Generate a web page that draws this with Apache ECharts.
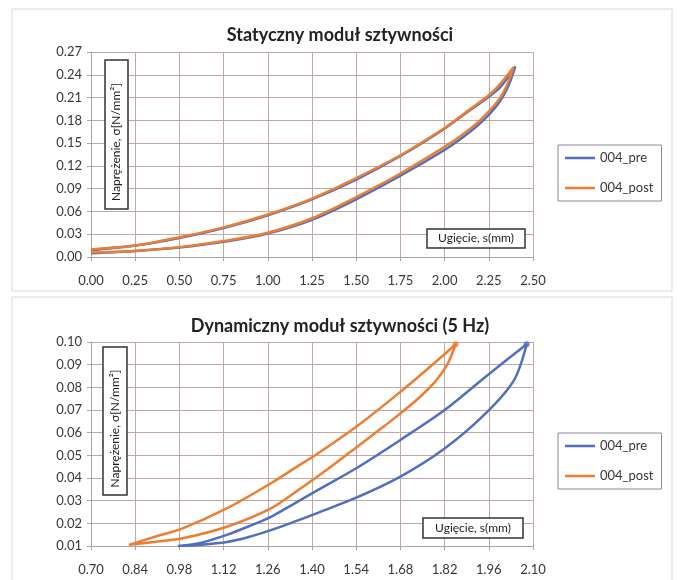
<!DOCTYPE html>
<html>
<head>
<meta charset="utf-8">
<script src="https://cdn.jsdelivr.net/npm/echarts@6/dist/echarts.min.js"></script>
<style>html,body{margin:0;padding:0;background:#fff}#c{width:680px;height:580px}</style>
</head>
<body>
<div id="c"></div>
<script>
// ---- Top chart: Statyczny moduł sztywności ----
var staticTitle = 'Statyczny moduł sztywności';
var staticXTicks = ['0.00','0.25','0.50','0.75','1.00','1.25','1.50','1.75','2.00','2.25','2.50'];
var staticYTicks = ['0.00','0.03','0.06','0.09','0.12','0.15','0.18','0.21','0.24','0.27'];
var staticPreX  = [0.00,0.25,0.50,0.75,1.00,1.25,1.50,1.75,2.00,2.10,2.20,2.30,2.36,2.40, 2.32,2.25,2.10,2.00,1.75,1.50,1.25,1.00,0.75,0.50,0.25,0.00];
var staticPreY  = [0.005,0.008,0.0125,0.020,0.031,0.049,0.076,0.107,0.141,0.157,0.176,0.201,0.225,0.251, 0.225,0.211,0.186,0.169,0.133,0.102,0.076,0.055,0.038,0.025,0.015,0.009];
var staticPostX = [0.00,0.25,0.50,0.75,1.00,1.25,1.50,1.75,2.00,2.10,2.20,2.30,2.35,2.39, 2.30,2.25,2.10,2.00,1.75,1.50,1.25,1.00,0.75,0.50,0.25,0.00];
var staticPostY = [0.006,0.008,0.013,0.021,0.032,0.051,0.079,0.110,0.145,0.161,0.180,0.205,0.225,0.250, 0.224,0.213,0.187,0.170,0.134,0.104,0.077,0.056,0.039,0.026,0.015,0.010];

// ---- Bottom chart: Dynamiczny moduł sztywności (5 Hz) ----
var dynTitle = 'Dynamiczny moduł sztywności (5 Hz)';
var dynXTicks = ['0.70','0.84','0.98','1.12','1.26','1.40','1.54','1.68','1.82','1.96','2.10'];
var dynYTicks = ['0.01','0.02','0.03','0.04','0.05','0.06','0.07','0.08','0.09','0.10'];
var dynPreX  = [0.975,1.05,1.13,1.20,1.27,1.34,1.41,1.54,1.68,1.82,1.95,2.04,2.08, 1.95,1.82,1.68,1.54,1.41,1.34,1.27,1.20,1.13,1.05,0.975];
var dynPreY  = [0.0100,0.0106,0.0118,0.0140,0.0170,0.0205,0.0242,0.0313,0.0406,0.0530,0.0685,0.0832,0.0990, 0.0847,0.0700,0.0568,0.0443,0.0340,0.0284,0.0229,0.0187,0.0149,0.0115,0.0100];
var dynPostX = [0.82,0.90,0.99,1.13,1.27,1.36,1.45,1.54,1.63,1.68,1.74,1.79,1.83,1.855, 1.805,1.68,1.54,1.41,1.36,1.27,1.13,0.99,0.90,0.82];
var dynPostY = [0.0105,0.0118,0.0134,0.0185,0.0266,0.0350,0.0440,0.0535,0.0630,0.0685,0.0755,0.0825,0.0905,0.0990, 0.0928,0.0780,0.0626,0.0500,0.0457,0.0377,0.0266,0.0178,0.0140,0.0105];

var seriesNames = ['004_pre','004_post'];
var colors = ['#4F6FC0','#ED7D31'];
var axisNameY = 'Naprężenie, σ[N/mm²]';
var axisNameX = 'Ugięcie, s(mm)';

function zip(xs, ys){ return xs.map(function(x,i){ return [x, ys[i]]; }); }
function apex(xs, ys){ var m=0; for(var i=1;i<ys.length;i++){ if(ys[i]>ys[m]) m=i; } return [[xs[m], ys[m]]]; }

var FONT = 'Lato, "Liberation Sans", sans-serif';
var gridColor = '#c2a9a9';
var labelStyle = {fontFamily: FONT, fontSize: 13, color: '#383838'};

function xAxis(idx, ticks){
  var mn = parseFloat(ticks[0]), mx = parseFloat(ticks[ticks.length-1]);
  var step = parseFloat(ticks[1]) - mn;
  return {type:'value', gridIndex: idx, min: mn, max: mx, interval: step,
    axisLine:{show:true, onZero:false, lineStyle:{color:'#b0a0a0'}},
    axisTick:{show:true, length:4, lineStyle:{color:'#b0a0a0'}},
    splitLine:{show:true, lineStyle:{color:gridColor, width:1}},
    axisLabel: Object.assign({margin:17, formatter:function(v){
      var k = Math.round((v-mn)/step); return ticks[k] !== undefined ? ticks[k] : v.toFixed(2);}}, labelStyle)};
}
function yAxis(idx, ticks){
  var mn = parseFloat(ticks[0]), mx = parseFloat(ticks[ticks.length-1]);
  var step = parseFloat(ticks[1]) - mn;
  return {type:'value', gridIndex: idx, min: mn, max: mx, interval: step,
    axisLine:{show:true, lineStyle:{color:'#b0a0a0'}},
    axisTick:{show:true, length:4, lineStyle:{color:'#b0a0a0'}},
    splitLine:{show:true, lineStyle:{color:gridColor, width:1}},
    axisLabel: Object.assign({margin:9, formatter:function(v){
      var k = Math.round((v-mn)/step); return ticks[k] !== undefined ? ticks[k] : v.toFixed(2);}}, labelStyle)};
}
function lineSeries(name, idx, data, color, z){
  return {name:name, type:'line', xAxisIndex:idx, yAxisIndex:idx, data:data, smooth:0.3,
    symbol:'none', lineStyle:{color:color, width:2.5}, itemStyle:{color:color}, z:z, animation:false};
}
function dotSeries(idx, data, color){
  return {name:'apex', type:'scatter', xAxisIndex:idx, yAxisIndex:idx, data:data, symbolSize:6,
    itemStyle:{color:color}, z:5, animation:false, silent:true};
}
function frameBox(x, y, w, h){
  return {type:'rect', z:99, shape:{x:x, y:y, width:w, height:h},
    style:{fill:'#fff', stroke:'#333', lineWidth:1.5}};
}
function boxText(x, y, text, rot){
  return {type:'text', x:x, y:y, rotation: rot || 0, z:100,
    style:{text:text, font:'12px ' + FONT, fill:'#222', align:'center', verticalAlign:'middle'}};
}
function legendAt(top){
  return {data:seriesNames, orient:'vertical', left:558, top:top, icon:'rect', itemWidth:30, itemHeight:2.5, itemGap:14,
    padding:[5,8,5,7], borderColor:'#8c8c8c', borderWidth:1, backgroundColor:'#fff',
    textStyle:{fontFamily:FONT, fontSize:13, color:'#383838', lineHeight:16}};
}

var chart = echarts.init(document.getElementById('c'), null, {renderer:'canvas'});
chart.setOption({
  backgroundColor:'#fff',
  animation:false,
  title:[
    {text:staticTitle, left:'center', top:21, textStyle:{fontFamily:FONT, fontSize:18, fontWeight:'bold', color:'#222'}},
    {text:dynTitle, left:'center', top:312, textStyle:{fontFamily:FONT, fontSize:18, fontWeight:'bold', color:'#222'}}
  ],
  legend:[legendAt(145), legendAt(433)],
  grid:[
    {left:91, top:52, width:442, height:205},
    {left:91, top:342, width:442, height:204}
  ],
  xAxis:[xAxis(0, staticXTicks), xAxis(1, dynXTicks)],
  yAxis:[yAxis(0, staticYTicks), yAxis(1, dynYTicks)],
  series:[
    lineSeries(seriesNames[0], 0, zip(staticPreX, staticPreY), colors[0], 2),
    lineSeries(seriesNames[1], 0, zip(staticPostX, staticPostY), colors[1], 3),
    lineSeries(seriesNames[0], 1, zip(dynPreX, dynPreY), colors[0], 2),
    lineSeries(seriesNames[1], 1, zip(dynPostX, dynPostY), colors[1], 3),
    dotSeries(1, apex(dynPreX, dynPreY), colors[0]),
    dotSeries(1, apex(dynPostX, dynPostY), colors[1])
  ],
  graphic:[
    {type:'rect', shape:{x:12, y:9, width:660, height:282}, style:{fill:'none', stroke:'#d9d9d9', lineWidth:1}, z:-1},
    {type:'rect', shape:{x:12, y:297, width:660, height:290}, style:{fill:'none', stroke:'#d9d9d9', lineWidth:1}, z:-1},
    frameBox(105, 60, 23, 149),
    frameBox(103, 347, 24, 148),
    frameBox(427, 229, 98, 19),
    frameBox(423, 518, 100, 20),
    boxText(116.5, 142, axisNameY, Math.PI/2),
    boxText(115, 428.5, axisNameY, Math.PI/2),
    boxText(476, 238.5, axisNameX, 0),
    boxText(473, 528, axisNameX, 0)
  ]
});
</script>
</body>
</html>
